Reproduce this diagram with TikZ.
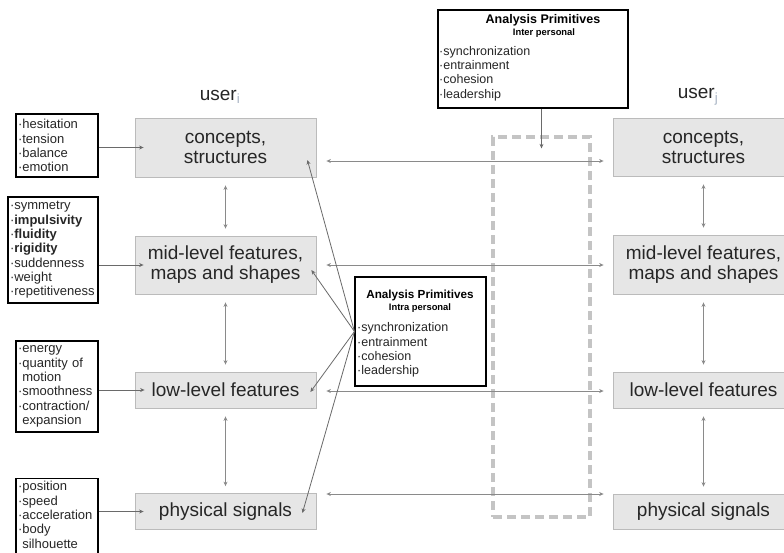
\documentclass[tikz,border=0pt]{standalone}
\usepackage{fontspec}
\setmainfont{Liberation Sans}
\usetikzlibrary{arrows.meta,calc}
\definecolor{boxfill}{HTML}{E6E6E6}
\definecolor{boxline}{HTML}{BBBBBB}
\definecolor{txt}{HTML}{262626}
\definecolor{arrgray}{HTML}{8A8A8A}
\definecolor{diaggray}{HTML}{6A6A6A}
\definecolor{dashgray}{HTML}{C4C4C4}
\definecolor{subcol}{HTML}{A8B4C4}
\begin{document}
\begin{tikzpicture}[x=1pt,y=-1pt,
  level/.style={draw=boxline, fill=boxfill, line width=0.8pt, minimum width=181pt,
    inner sep=0pt, align=center, text=txt, font=\fontsize{19}{20}\selectfont},
  feat/.style={draw=black, line width=1.1pt, inner xsep=2pt, inner ysep=0pt,
    align=left, text=txt, font=\fontsize{13}{14.3}\selectfont},
  prim/.style={draw=black, line width=1.1pt, fill=white, inner sep=0pt},
  ptitle/.style={text=black, inner sep=0pt, font=\bfseries\fontsize{12.5}{14}\selectfont},
  psub/.style={text=black, inner sep=0pt, font=\bfseries\fontsize{9.4}{11}\selectfont},
  pitems/.style={text=txt, inner sep=0pt, align=left, anchor=west, font=\fontsize{12.5}{14.2}\selectfont},
  ulabel/.style={text=txt, inner sep=0pt, font=\fontsize{19}{20}\selectfont},
  tip/.style={-{Stealth[length=4.5pt,width=4pt]}},
  dbl/.style={draw=arrgray, line width=0.8pt, {Stealth[length=4.5pt,width=4pt]}-{Stealth[length=4.5pt,width=4pt]}},
  farr/.style={draw=diaggray, line width=0.9pt, tip},
  diag/.style={draw=diaggray, line width=0.8pt, tip},
]
\useasboundingbox (0,0) rectangle (784,552);
\fill[white] (0,0) rectangle (784,552);

% dashed grouping frame between the two users
\node[draw=dashgray, line width=3.3pt, dash pattern=on 9pt off 5pt,
      minimum width=97pt, minimum height=380pt, inner sep=0pt] (grp) at (541.5,327) {};

% user labels
\node[ulabel] (ui) at (220,97) {user\textsubscript{\color{subcol}i}};
\node[ulabel] (uj) at (698,97) {user\textsubscript{\color{subcol}j}};

% levels of user i
\node[level, minimum height=59pt] (cL) at (225.5,147.5) {concepts,\\structures};
\node[level, minimum height=58pt] (mL) at (225.5,265) {mid-level features,\\maps and shapes};
\node[level, minimum height=36pt] (lL) at (225.5,390) {low-level features};
\node[level, minimum height=36pt] (pL) at (225.5,511.5) {physical signals};

% levels of user j
\node[level, minimum height=58pt] (cR) at (703.5,147) {concepts,\\structures};
\node[level, minimum height=59pt] (mR) at (703.5,264.5) {mid-level features,\\maps and shapes};
\node[level, minimum height=36pt] (lR) at (703.5,390) {low-level features};
\node[level, minimum height=35pt] (pR) at (703.5,511.5) {physical signals};

% feature lists
\node[feat, text width=78pt, minimum height=63pt] (f1) at (57,145.5)
  {·hesitation\\·tension\\·balance\\·emotion};
\node[feat, text width=86pt, minimum height=106pt] (f2) at (53,250)
  {·symmetry\\·\textbf{impulsivity}\\·\textbf{fluidity}\\·\textbf{rigidity}\\·suddenness\\·weight\\·repetitiveness};
\node[feat, text width=78pt, minimum height=91pt] (f3) at (57,386.5)
  {·energy\\·quantity of\\\phantom{·}motion\\·smoothness\\·contraction/\\\phantom{·}expansion};
% the last list runs on past the lower edge
\node[feat, text width=78pt, inner ysep=3pt, anchor=north] (f4) at (57,478)
  {·position\\·speed\\·acceleration\\·body\\\phantom{·}silhouette\\\strut};

% inter-personal primitives
\node[prim, minimum width=190pt, minimum height=98pt] (inter) at (533,59) {};
\node[ptitle] (interT) at (543,20) {Analysis Primitives};
\node[psub] (interS) at (544,33) {Inter personal};
\node[pitems] (interI) at (439,73.5)
  {·synchronization\\·entrainment\\·cohesion\\·leadership};

% intra-personal primitives
\node[prim, minimum width=131pt, minimum height=109pt] (intra) at (420.5,331.5) {};
\node[ptitle, font=\bfseries\fontsize{11.7}{13}\selectfont] (intraT) at (420,295) {Analysis Primitives};
\node[psub] (intraS) at (420,308) {Intra personal};
\node[pitems] (intraI) at (357,350)
  {·synchronization\\·entrainment\\·cohesion\\·leadership};

% feature lists feed the levels
\draw[farr] (f1.east |- cL.west) -- ($(cL.west)+(9,0)$);
\draw[farr] (f2.east |- mL.west) -- ($(mL.west)+(9,0)$);
\draw[farr] (f3.east |- lL.west) -- ($(lL.west)+(10,0)$);
\draw[farr] (f4.east |- pL.west) -- ($(pL.west)+(9,0)$);

% vertical links within each user
\foreach \a/\b in {cL/mL, mL/lL, lL/pL, cR/mR, mR/lR, lR/pR}
  \draw[dbl, shorten <=8pt, shorten >=7pt] (\a.south) -- (\b.north);

% links between users
\draw[dbl, shorten <=10pt, shorten >=9pt] ([yshift=-13.5pt]cL.east) -- ([yshift=-13.5pt]cL.east -| cR.west);
\draw[dbl, shorten <=10pt, shorten >=9pt] (mL.east) -- (mL.east -| mR.west);
\draw[dbl, shorten <=10pt, shorten >=9pt] ([yshift=-1pt]lL.east) -- ([yshift=-1pt]lL.east -| lR.west);
\draw[dbl, shorten <=10pt, shorten >=9pt] ([yshift=17.5pt]pL.east) -- ([yshift=17.5pt]pL.east -| pR.west);

% inter-personal primitives act on the frame
\draw[diag] (inter.south -| grp.north) -- ($(grp.north)+(0,13)$);

% intra-personal primitives act on every level of user i
\coordinate (src) at (intra.west);
\draw[diag] (src) -- ($(cL.east)+(-9,12.5)$);
\draw[diag] (src) -- ($(mL.east)+(-5,5)$);
\draw[diag] (src) -- ($(lL.east)+(-6,2)$);
\draw[diag] (src) -- ($(pL.east)+(-14,1.5)$);
\end{tikzpicture}
\end{document}
